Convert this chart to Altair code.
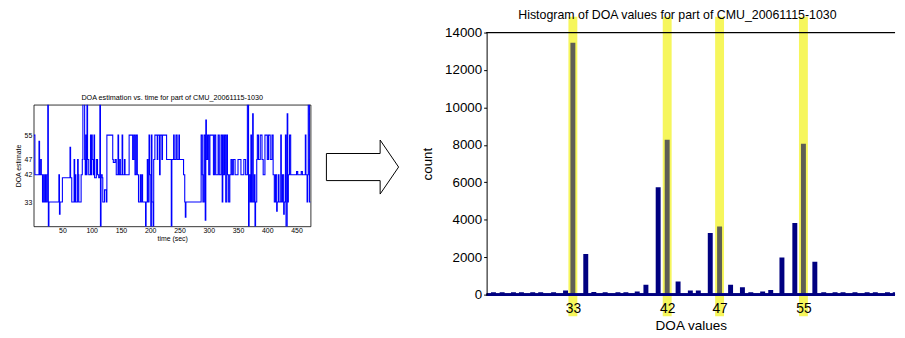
import altair as alt
import pandas as pd

FONT = "Liberation Sans"

# ---------------- Left panel: DOA estimate vs. time (step trace) ----------------
time_sec = [1, 3, 10, 11, 13, 14, 16, 18, 19, 21,
            22, 24, 25, 26, 27, 44, 45, 46, 50, 63,
            64, 66, 70, 71, 72, 73, 76, 77, 78, 82,
            84, 85, 88, 89, 90, 91, 92, 93, 95, 98,
            99, 100, 101, 103, 104, 105, 108, 110, 112, 114,
            115, 116, 118, 119, 122, 125, 126, 136, 137, 140,
            142, 145, 146, 148, 149, 152, 153, 156, 157, 164,
            170, 172, 174, 176, 178, 180, 183, 184, 186, 187,
            192, 193, 195, 196, 198, 199, 201, 202, 203, 205,
            206, 208, 212, 213, 216, 217, 220, 221, 228, 236,
            237, 240, 241, 244, 246, 249, 250, 257, 259, 260,
            261, 287, 289, 290, 292, 294, 295, 296, 298, 300,
            302, 308, 310, 312, 316, 318, 321, 323, 324, 325,
            327, 329, 331, 332, 334, 336, 338, 340, 342, 345,
            350, 355, 360, 363, 366, 368, 369, 371, 372, 373,
            375, 376, 378, 379, 380, 382, 383, 385, 388, 391,
            393, 396, 400, 402, 405, 408, 410, 412, 414, 416,
            417, 419, 420, 423, 424, 426, 428, 429, 431, 432,
            434, 435, 436, 438, 440, 450, 452, 458, 460, 465,
            466, 468, 469, 470, 472, 474]
doa_est = [55, 42, 53, 42, 47, 42, 33, 42, 33, 42,
           33, 42, 68, 22, 33, 42, 29, 33, 41, 51,
           41, 33, 47, 33, 42, 33, 47, 42, 33, 42,
           47, 68, 47, 42, 55, 42, 68, 47, 42, 55,
           42, 55, 47, 42, 55, 41, 47, 42, 41, 68,
           22, 42, 41, 33, 37, 33, 55, 47, 46, 47,
           42, 55, 42, 47, 42, 55, 42, 47, 42, 55,
           47, 55, 42, 55, 42, 33, 42, 33, 42, 33,
           22, 33, 47, 33, 55, 42, 22, 55, 33, 22,
           47, 55, 47, 55, 42, 55, 47, 55, 47, 22,
           47, 55, 47, 55, 47, 55, 47, 42, 33, 28,
           33, 55, 42, 33, 55, 27, 60, 47, 55, 42,
           55, 42, 55, 42, 55, 42, 55, 33, 55, 42,
           55, 33, 55, 42, 33, 42, 47, 42, 47, 42,
           47, 42, 47, 42, 68, 22, 42, 33, 55, 33,
           62, 33, 42, 22, 33, 47, 55, 47, 55, 47,
           42, 55, 47, 55, 47, 55, 42, 33, 42, 30,
           33, 42, 33, 55, 33, 42, 29, 33, 55, 22,
           62, 33, 42, 55, 42, 43, 42, 43, 42, 55,
           42, 33, 42, 68, 33, 33]
time_ticks = [50, 100, 150, 200, 250, 300, 350, 400, 450]
doa_ticks = [33, 42, 47, 55]

# ---------------- Right panel: histogram of DOA values ----------------
doa_bins = [25.42, 26.25, 27.33, 28.09, 29.17, 29.93, 31.16, 32.30, 33, 34.23,
            35.00, 36.08, 37.30, 38.06, 39.14, 39.97, 41.14, 42, 43.04, 44.21,
            44.97, 46.11, 47, 48.05, 49.18, 49.98, 51.11, 51.88, 52.95, 54.18,
            55, 56.09, 56.94, 58.02, 58.78, 59.92, 61.08, 61.86, 63.02, 63.76]
doa_counts = [130, 130, 130, 130, 130, 130, 120, 220, 13450, 2170,
              140, 130, 130, 130, 170, 530, 5740, 8270, 700, 220,
              220, 3290, 3640, 530, 390, 130, 170, 250, 1980, 3820,
              8060, 1750, 130, 130, 130, 130, 130, 130, 130, 130]
highlight_doa = [33, 42, 47, 55]
count_ticks = [0, 2000, 4000, 6000, 8000, 10000, 12000, 14000]

track_df = pd.DataFrame({"t": time_sec, "doa": doa_est})
hist_df = pd.DataFrame({"doa": doa_bins, "count": doa_counts})
hist_df["hl"] = hist_df["doa"].isin(highlight_doa)
plain_df = hist_df[~hist_df["hl"]]
hl_bars_df = hist_df[hist_df["hl"]]
hl_df = pd.DataFrame({"doa": highlight_doa})
one_row = pd.DataFrame({"k": [0]})


def spacer(w, h):
    return alt.Chart(one_row).mark_point(opacity=0).encode(
        x=alt.value(0), y=alt.value(0)
    ).properties(width=w, height=h)


# ---------------- Left chart ----------------
left = alt.Chart(track_df).mark_line(
    interpolate="step-after", color="#0000ff", strokeWidth=1.1, clip=True
).encode(
    x=alt.X("t:Q", scale=alt.Scale(domain=[1, 474], nice=False, zero=False),
            axis=alt.Axis(values=time_ticks, title="time (sec)", labelFontSize=7,
                          titleFontSize=7, tickSize=0, labelPadding=0, titlePadding=1,
                          grid=False, domain=False)),
    y=alt.Y("doa:Q", scale=alt.Scale(domain=[25, 65], nice=False, zero=False),
            axis=alt.Axis(values=doa_ticks, title="DOA estimate", labelFontSize=7,
                          titleFontSize=7, tickSize=0, labelPadding=2, titlePadding=3,
                          grid=False, domain=False)),
).properties(
    width=280, height=123,
    title=alt.TitleParams("DOA estimation vs. time for part of CMU_20061115-1030",
                          fontSize=7.3, fontWeight="normal", offset=4, anchor="middle",
                          frame="group"),
    view=alt.ViewBackground(stroke="black", strokeWidth=0.8, fill="white"),
)
left_col = alt.vconcat(spacer(280, 60), left, spacing=0)

# ---------------- Arrow ----------------
arrow_path = "M -1 -0.375 L 0.488 -0.375 L 0.488 -0.748 L 1 0 L 0.488 0.748 L 0.488 0.375 L -1 0.375 Z"
arrow = alt.Chart(one_row).mark_point(
    shape=arrow_path, size=73 * 73, filled=True, fill="white", stroke="black",
    strokeWidth=1, opacity=1
).encode(x=alt.value(47.5), y=alt.value(30)).properties(width=104.5, height=60)
arrow_col = alt.vconcat(spacer(104.5, 104), arrow, spacing=0)

# ---------------- Histogram ----------------
xs = alt.Scale(domain=[25.24, 63.27], nice=False, zero=False)
ys = alt.Scale(domain=[0, 14000], nice=False, zero=False)
x_axis = alt.Axis(values=highlight_doa, title="DOA values", labelFontSize=14,
                  tickSize=0, domain=False, grid=False, labelPadding=7,
                  titlePadding=3, titleFontSize=13.7, zindex=1)
y_axis = alt.Axis(values=count_ticks, format="d", title="count", labelFontSize=13.5,
                  tickSize=3, domain=True, grid=False, labelPadding=2,
                  titlePadding=10, titleFontSize=13.5, zindex=1)

band = alt.Chart(hl_df).mark_bar(color="#f6f65c", size=9).encode(
    x=alt.X("doa:Q", scale=xs, axis=x_axis),
    y=alt.Y(datum=14850, scale=ys, axis=y_axis),
    y2=alt.Y2(datum=-1150),
)
bars = alt.Chart(plain_df).mark_bar(color="#000080", size=5, clip=True).encode(
    x=alt.X("doa:Q", scale=xs, axis=x_axis),
    y=alt.Y("count:Q", scale=ys, axis=y_axis),
)
hl_bars = alt.Chart(hl_bars_df).mark_bar(color="#5e5e55", size=5, clip=True).encode(
    x=alt.X("doa:Q", scale=xs, axis=x_axis),
    y=alt.Y("count:Q", scale=ys, axis=y_axis),
)
top_rule = alt.Chart(hl_df).mark_rule(color="black", strokeWidth=1).encode(
    y=alt.Y(datum=14000, scale=ys, axis=y_axis)
)
base_rule = alt.Chart(hl_df).mark_rule(color="#000080", strokeWidth=2.5).encode(
    y=alt.Y(datum=0, scale=ys, axis=y_axis)
)

hist = alt.layer(band, bars, hl_bars, base_rule, top_rule).properties(
    width=413, height=265,
    title=alt.TitleParams("Histogram of DOA values for part of CMU_20061115-1030",
                          fontSize=12.5, fontWeight="normal", anchor="start",
                          frame="group", dx=32, offset=-5),
)

chart = alt.hconcat(left_col, arrow_col, hist, spacing=0).properties(
    padding={"left": 5, "top": -2, "right": 0, "bottom": 0},
    background="white",
).configure(font=FONT).configure_view(stroke="transparent").configure_axis(
    labelColor="black", titleColor="black", domainColor="black", tickColor="black",
    titleFontWeight="normal", labelFont=FONT, titleFont=FONT
).configure_title(color="black", font=FONT)

chart.save("out.html", embed_options={"renderer": "svg", "actions": False})
